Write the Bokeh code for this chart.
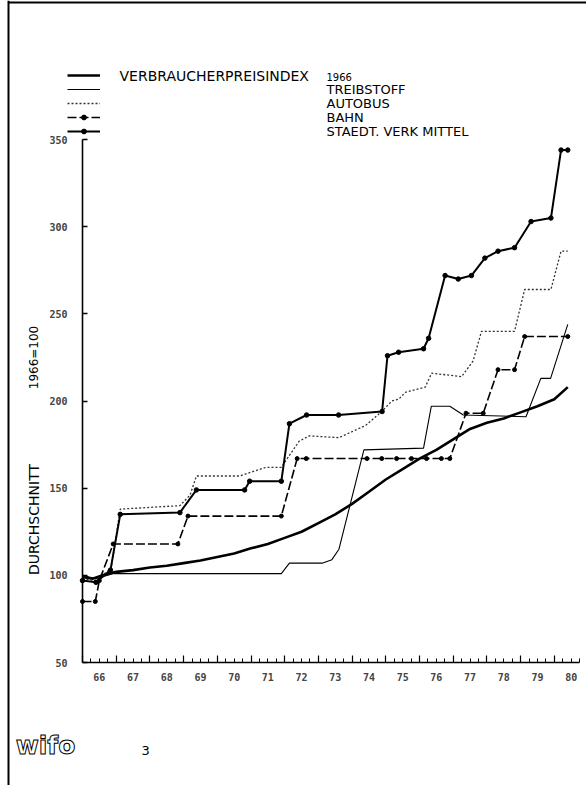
import math
from bokeh.plotting import figure
from bokeh.models import (Legend, LegendItem, LinearAxis, FixedTicker, Label,
                          Range1d, BoxAnnotation)
from bokeh.embed import file_html
from bokeh.resources import INLINE

# ---------------- data ----------------
year_ticks = list(range(1966, 1981))
year_label_pos = [y + 0.5 for y in year_ticks]
year_labels = ["66", "67", "68", "69", "70", "71", "72", "73", "74", "75",
               "76", "77", "78", "79", "80"]
y_ticks = [50, 100, 150, 200, 250, 300, 350]

series_names = ["VERBRAUCHERPREISINDEX", "TREIBSTOFF", "AUTOBUS", "BAHN",
                "STAEDT. VERK MITTEL"]

vpi_t = [1966.0, 1966.3, 1966.6, 1967.0, 1967.5, 1968.0, 1968.5, 1969.0, 1969.5,
         1970.0, 1970.5, 1971.0, 1971.5, 1972.0, 1972.5, 1973.0, 1973.5, 1974.0,
         1974.5, 1975.0, 1975.5, 1976.0, 1976.5, 1977.0, 1977.5, 1978.0, 1978.5,
         1979.0, 1979.5, 1980.0, 1980.4]
vpi_v = [99, 98, 100, 102, 103, 104.5, 105.5, 107, 108.5, 110.5, 112.5, 115.5,
         118, 121.5, 125, 130, 135, 141, 148, 155, 161, 167, 172, 178, 184,
         187.5, 190, 193.5, 197, 201, 208]

treib_t = [1966.0, 1966.4, 1966.9, 1971.9, 1972.14, 1973.11, 1973.4, 1973.61,
           1974.35, 1976.12, 1976.35, 1976.9, 1977.3, 1979.16, 1979.6, 1979.89,
           1980.4]
treib_v = [100, 98, 101, 101, 107, 107, 109, 115, 172, 173, 197, 197, 192, 191,
           213, 213, 244]

auto_t = [1966.0, 1966.4, 1966.85, 1967.12, 1968.89, 1969.19, 1969.38, 1970.66,
          1971.45, 1971.9, 1972.43, 1972.73, 1973.61, 1974.4, 1974.88, 1975.18,
          1975.38, 1975.58, 1976.17, 1976.36, 1977.25, 1977.59, 1977.84, 1978.82,
          1979.12, 1979.9, 1980.2, 1980.4]
auto_v = [98, 97, 104, 138, 140, 146, 157, 157, 162, 162, 177, 180, 179, 186,
          194, 200, 201, 205, 208, 216, 214, 223, 240, 240, 264, 264, 286, 286]

bahn_t = [1966.0, 1966.38, 1966.5, 1966.91, 1968.83, 1969.13, 1971.9, 1972.37,
          1972.64, 1974.44, 1974.88, 1975.32, 1975.76, 1976.21, 1976.65, 1976.9,
          1977.38, 1977.89, 1978.33, 1978.82, 1979.12, 1980.4]
bahn_v = [85, 85, 97, 118, 118, 134, 134, 167, 167, 167, 167, 167, 167, 167,
          167, 167, 193, 193, 218, 218, 237, 237]

st_t = [1966.0, 1966.4, 1966.83, 1967.12, 1968.89, 1969.38, 1970.81, 1970.96,
        1971.9, 1972.14, 1972.65, 1973.6, 1974.89, 1975.05, 1975.38, 1976.12,
        1976.27, 1976.76, 1977.15, 1977.54, 1977.94, 1978.33, 1978.82, 1979.31,
        1979.9, 1980.2, 1980.4]
st_v = [97, 96, 103, 135, 136, 149, 149, 154, 154, 187, 192, 192, 194, 226, 228,
        230, 236, 272, 270, 272, 282, 286, 288, 303, 305, 344, 344]

# ---------------- layout constants (pixels) ----------------
W, H = 586, 785
AX_X, AX_Y = 82, 662          # pixel position of the axes corner
PX_YR, PX_U = 33.7, 1.743     # pixels per year / per index point
FONT = "DejaVu Sans"
MONO = "DejaVu Sans Mono"

x_range = Range1d(1966 - AX_X / PX_YR, 1966 + (W - AX_X) / PX_YR)
y_range = Range1d(50 - (H - AX_Y) / PX_U, 50 + AX_Y / PX_U)

p = figure(width=W, height=H, output_backend="svg", toolbar_location=None,
           x_range=x_range, y_range=y_range,
           x_axis_location=None, y_axis_location=None)
p.min_border = 0
p.outline_line_color = None
p.grid.visible = False
p.background_fill_color = "white"
p.border_fill_color = "white"

# y axis
yax = LinearAxis(ticker=FixedTicker(ticks=y_ticks), bounds=(50, 350),
                 fixed_location=1966)
yax.major_tick_in = 5
yax.major_tick_out = 0
yax.minor_tick_in = 0
yax.minor_tick_out = 0
yax.axis_line_width = 1.6
yax.major_tick_line_width = 1.4
yax.major_label_standoff = 15
yax.major_label_text_font = MONO
yax.major_label_text_font_size = "10px"
yax.major_label_text_font_style = "bold"
p.add_layout(yax, "left")

# x axis: year boundaries + quarter ticks (no labels)
quarters = [y + q for y in range(1966, 1981) for q in (0.25, 0.5, 0.75)]
xa = LinearAxis(ticker=FixedTicker(ticks=year_ticks, minor_ticks=quarters),
                bounds=(1966, 1980.75), fixed_location=50)
xa.major_tick_in = 7
xa.major_tick_out = 0
xa.minor_tick_in = 4
xa.minor_tick_out = 0
xa.axis_line_width = 1.6
xa.major_tick_line_width = 1.2
xa.minor_tick_line_width = 1.0
xa.major_label_text_color = None
xa.major_label_text_font_size = "1px"
p.add_layout(xa, "below")

# x axis labels centred on the years
xb = LinearAxis(ticker=FixedTicker(ticks=year_label_pos), fixed_location=50,
                major_label_overrides={k: v for k, v in zip(year_label_pos, year_labels)})
xb.axis_line_color = None
xb.major_tick_line_color = None
xb.minor_tick_line_color = None
xb.major_tick_in = 0
xb.major_tick_out = 0
xb.major_label_standoff = 10
xb.major_label_text_font = MONO
xb.major_label_text_font_size = "10px"
xb.major_label_text_font_style = "bold"
p.add_layout(xb, "below")

# ---------------- series ----------------
r_vpi = p.line(vpi_t, vpi_v, line_color="black", line_width=2.6)
r_tr = p.line(treib_t, treib_v, line_color="black", line_width=1.1)
r_au = p.line(auto_t, auto_v, line_color="#333333", line_width=1.3, line_dash="2 2")
r_ba = p.line(bahn_t, bahn_v, line_color="black", line_width=1.6, line_dash="9 3")
r_ba_m = p.scatter(bahn_t, bahn_v, marker="circle", size=4, color="black")
r_st = p.line(st_t, st_v, line_color="black", line_width=2.0)
r_st_m = p.scatter(st_t, st_v, marker="circle", size=4.5, color="black")

# legend samples (texts are placed separately, as in the original)
legend = Legend(items=[
    LegendItem(label=" ", renderers=[r_vpi]),
    LegendItem(label=" ", renderers=[r_tr]),
    LegendItem(label=" ", renderers=[r_au]),
    LegendItem(label=" ", renderers=[r_ba, r_ba_m]),
    LegendItem(label=" ", renderers=[r_st, r_st_m]),
], location=(67, H - 137))
legend.glyph_width = 33
legend.glyph_height = 12
legend.label_height = 12
legend.label_width = 1
legend.label_text_font_size = "6px"
legend.label_text_color = None
legend.spacing = 2
legend.padding = 0
legend.margin = 0
legend.border_line_color = None
legend.background_fill_alpha = 0
p.add_layout(legend)

def lab(text, x, y, size, align="left", angle=0, font=FONT, style="normal",
        color="black", **kw):
    # x, y are pixel positions measured from the top-left of the picture
    p.add_layout(Label(text=text, x=x, y=H - y, x_units="screen", y_units="screen",
                       text_font=font, text_font_size=size,
                       text_font_style=style, text_align=align,
                       text_baseline="middle", angle=angle, text_color=color, **kw))

# legend texts
lab(series_names[0], 119, 75, "14px")
lab("1966", 326, 76, "10px")
lab(series_names[1], 326, 89, "13px")
lab(series_names[2], 326, 103, "13px")
lab(series_names[3], 326, 117, "13px")
lab(series_names[4], 326, 131, "13px")

# y axis title (two parts)
lab("DURCHSCHNITT", 33, 519, "14px", align="center", angle=math.pi / 2)
lab("1966=100", 33, 357, "12px", align="center", angle=math.pi / 2)

# page furniture: logo and page number
lab("wifo", 45, 745, "25px", align="center", style="bold", color="white",
    text_outline_color="black")
lab("3", 141, 750, "13px")

# scanned page edges
p.add_layout(BoxAnnotation(left=7, right=9, bottom=0, top=H,
                           left_units="screen", right_units="screen",
                           bottom_units="screen", top_units="screen",
                           fill_color="black", fill_alpha=1, line_color=None))
p.add_layout(BoxAnnotation(left=8, right=W, bottom=H - 3, top=H - 1,
                           left_units="screen", right_units="screen",
                           bottom_units="screen", top_units="screen",
                           fill_color="black", fill_alpha=1, line_color=None))

open("out.html", "w").write(file_html(p, INLINE))
